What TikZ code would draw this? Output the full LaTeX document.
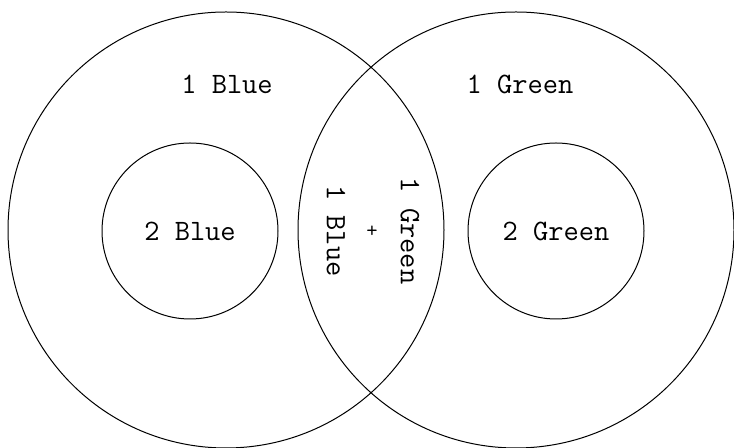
\documentclass[tikz,border=0pt]{standalone}
\usepackage{tikz}
\tikzset{
  ring/.style={draw,line width=0.5pt},
  lbl/.style={font=\ttfamily\fontsize{14.8}{16}\selectfont,inner sep=0pt}
}

\begin{document}
\begin{tikzpicture}[x=0.5pt,y=0.5pt]
  \useasboundingbox (0,0) rectangle (734,448);
  % Blue side
  \coordinate (B1) at (226,218);
  \coordinate (B2) at (190,217);
  \draw[ring] (B1) circle (218);
  \draw[ring] (B2) circle (88);
  \node[lbl] (oneblue) at (227,364) {1 Blue};
  \node[lbl] (twoblue) at (B2) {2 Blue};

  % Green side
  \coordinate (G1) at (516,218);
  \coordinate (G2) at (556,217);
  \draw[ring] (G1) circle (218);
  \draw[ring] (G2) circle (88);
  \node[lbl] (onegreen) at (520,364) {1 Green};
  \node[lbl] (twogreen) at (G2) {2 Green};

  % Overlap
  \node[lbl,rotate=-90] (mixblue) at (336,217) {1 Blue};
  \node[lbl,rotate=-90] (mixgreen) at (410,217) {1 Green};
  \node[font=\ttfamily\fontsize{11}{12}\selectfont,inner sep=0pt] (plus) at (372,216) {+};
\end{tikzpicture}
\end{document}
